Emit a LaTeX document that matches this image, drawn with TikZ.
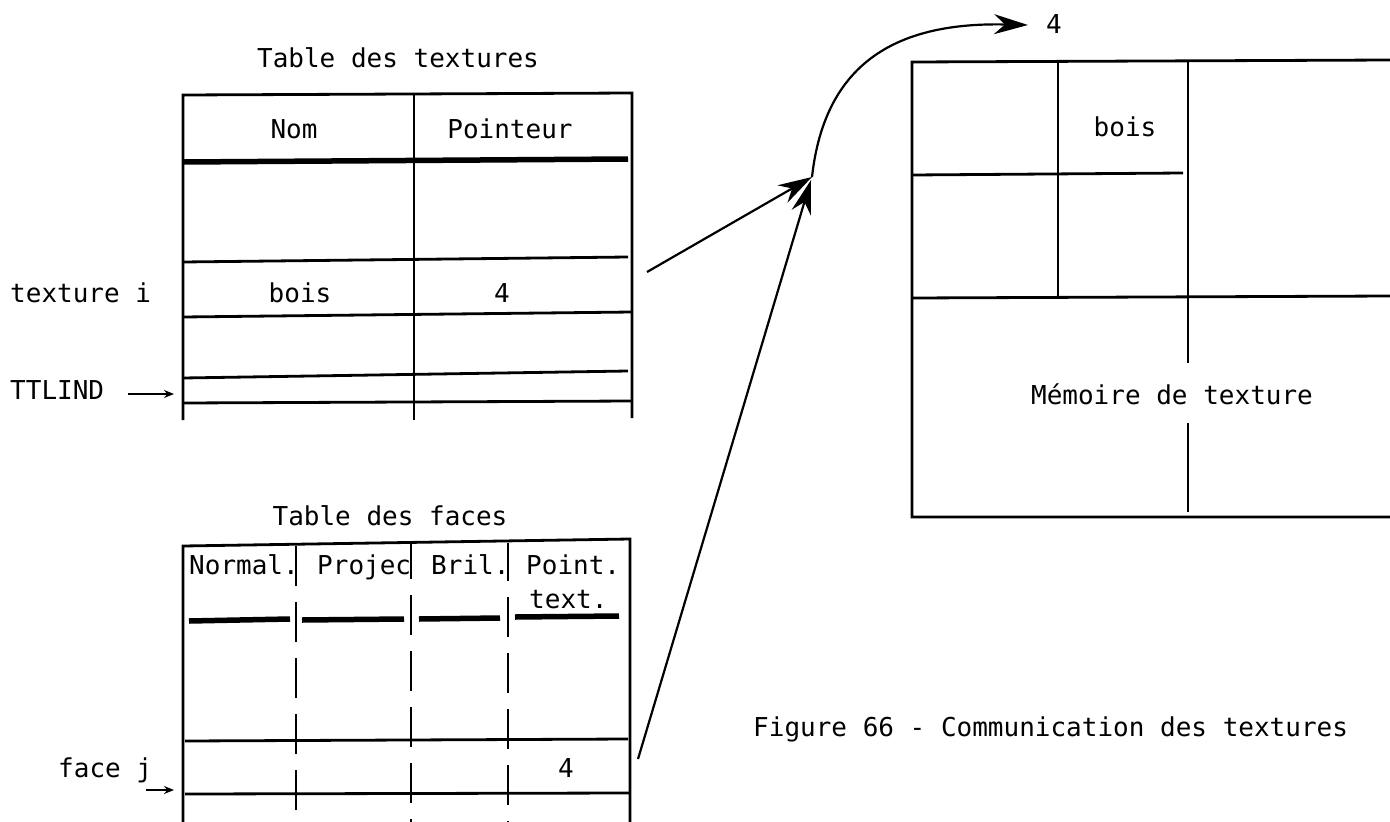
\documentclass[tikz,border=0pt]{standalone}
\usepackage{fontspec}
\setmonofont{DejaVu Sans Mono}
\usetikzlibrary{arrows.meta}
\begin{document}
\begin{tikzpicture}[x=1pt,y=-1pt,
  lbl/.style={inner sep=0pt,font=\fontsize{26}{30}\selectfont\ttfamily},
  rule/.style={line width=2.8pt},
  thick rule/.style={line width=5.5pt},
  dashrule/.style={line width=2.8pt,dash pattern=on 40pt off 16pt},
  bigarrow/.style={line width=2.2pt,-{Stealth[length=34pt,width=20pt]}},
  smallarrow/.style={line width=2.4pt,-{Stealth[length=10pt,width=8pt]}}]
\useasboundingbox (0,0) rectangle (1390,822);

% ---------- Table des textures ----------
\node[lbl,anchor=base] (t1) at (398,67) {Table des textures};
\draw[rule] (183,420) -- (183,95) -- (632,93) -- (632,418);
\draw[rule] (414,94) -- (414,420);
\draw[thick rule] (183,162) -- (628,159);
\draw[rule] (183,262) -- (628,257);
\draw[rule] (183,317) -- (632,312);
\draw[rule] (183,378) -- (628,371);
\draw[rule] (183,403) -- (632,401);
\node[lbl,anchor=base] (nom) at (294,138) {Nom};
\node[lbl,anchor=base] (ptr) at (510,138) {Pointeur};
\node[lbl,anchor=base] (bois1) at (300,302) {bois};
\node[lbl,anchor=base] (four1) at (502,302) {4};
\node[lbl,anchor=base west] (texi) at (10,302) {texture i};
\node[lbl,anchor=base west] (ttl) at (10,399) {TTLIND};
\coordinate (ttlstart) at (128,394);
\coordinate (ttlarr) at (174,394);
\draw[smallarrow] (ttlstart) -- (ttlarr);

% ---------- Table des faces ----------
\node[lbl,anchor=base] (t2) at (390,525) {Table des faces};
\draw[rule] (183,822) -- (183,546) -- (630,539) -- (630,822);
\draw[dashrule] (296,546) -- (296,822);
\draw[dashrule,dash phase=4pt] (411,543) -- (411,822);
\draw[dashrule,dash phase=2pt] (508,543) -- (508,822);
\draw[thick rule] (189,621) -- (290,619);
\draw[thick rule] (302,620) -- (404,619);
\draw[thick rule] (419,619) -- (500,618);
\draw[thick rule] (515,617) -- (619,616);
\draw[rule] (185,741) -- (628,739);
\draw[rule] (185,794) -- (630,793);
\node[lbl,anchor=base west] (h1) at (189,574) {Normal.};
\node[lbl,anchor=base west] (h2) at (317,574) {Projec};
\node[lbl,anchor=base west] (h3) at (431,574) {Bril.};
\node[lbl,anchor=base west] (h4) at (526,574) {Point.};
\node[lbl,anchor=base west] (h5) at (529,608) {text.};
\node[lbl,anchor=base west] (facej) at (58,777) {face j};
\node[lbl,anchor=base] (four2) at (566,777) {4};
\coordinate (fjstart) at (146,790);
\coordinate (fjend) at (174,790);
\draw[smallarrow] (fjstart) -- (fjend);

% ---------- Memoire de texture ----------
\draw[rule] (1390,60) -- (912,62) -- (912,517) -- (1390,517);
\draw[rule] (912,175) -- (1183,173);
\draw[rule] (912,298) -- (1390,296);
\draw[rule] (1058,62) -- (1058,298);
\draw[rule] (1188,62) -- (1188,363);
\draw[rule] (1188,423) -- (1188,512);
\node[lbl,anchor=base] (bois2) at (1125,136) {bois};
\node[lbl,anchor=base] (mem) at (1172,404) {Mémoire de texture};

% ---------- connectors ----------
\coordinate (hub) at (812,177);
\coordinate (from1) at (647,272);
\coordinate (from2) at (638,759);
\coordinate (top) at (1028,25);
\draw[bigarrow] (from1) -- (hub);
\draw[bigarrow] (from2) -- (811,180);
\draw[bigarrow] (hub) .. controls (825,60) and (900,22) .. (top);
\node[lbl,anchor=base west] (four3) at (1046,33) {4};

% ---------- caption ----------
\node[lbl,anchor=base west] (cap) at (753,736) {Figure 66 - Communication des textures};
\end{tikzpicture}
\end{document}
